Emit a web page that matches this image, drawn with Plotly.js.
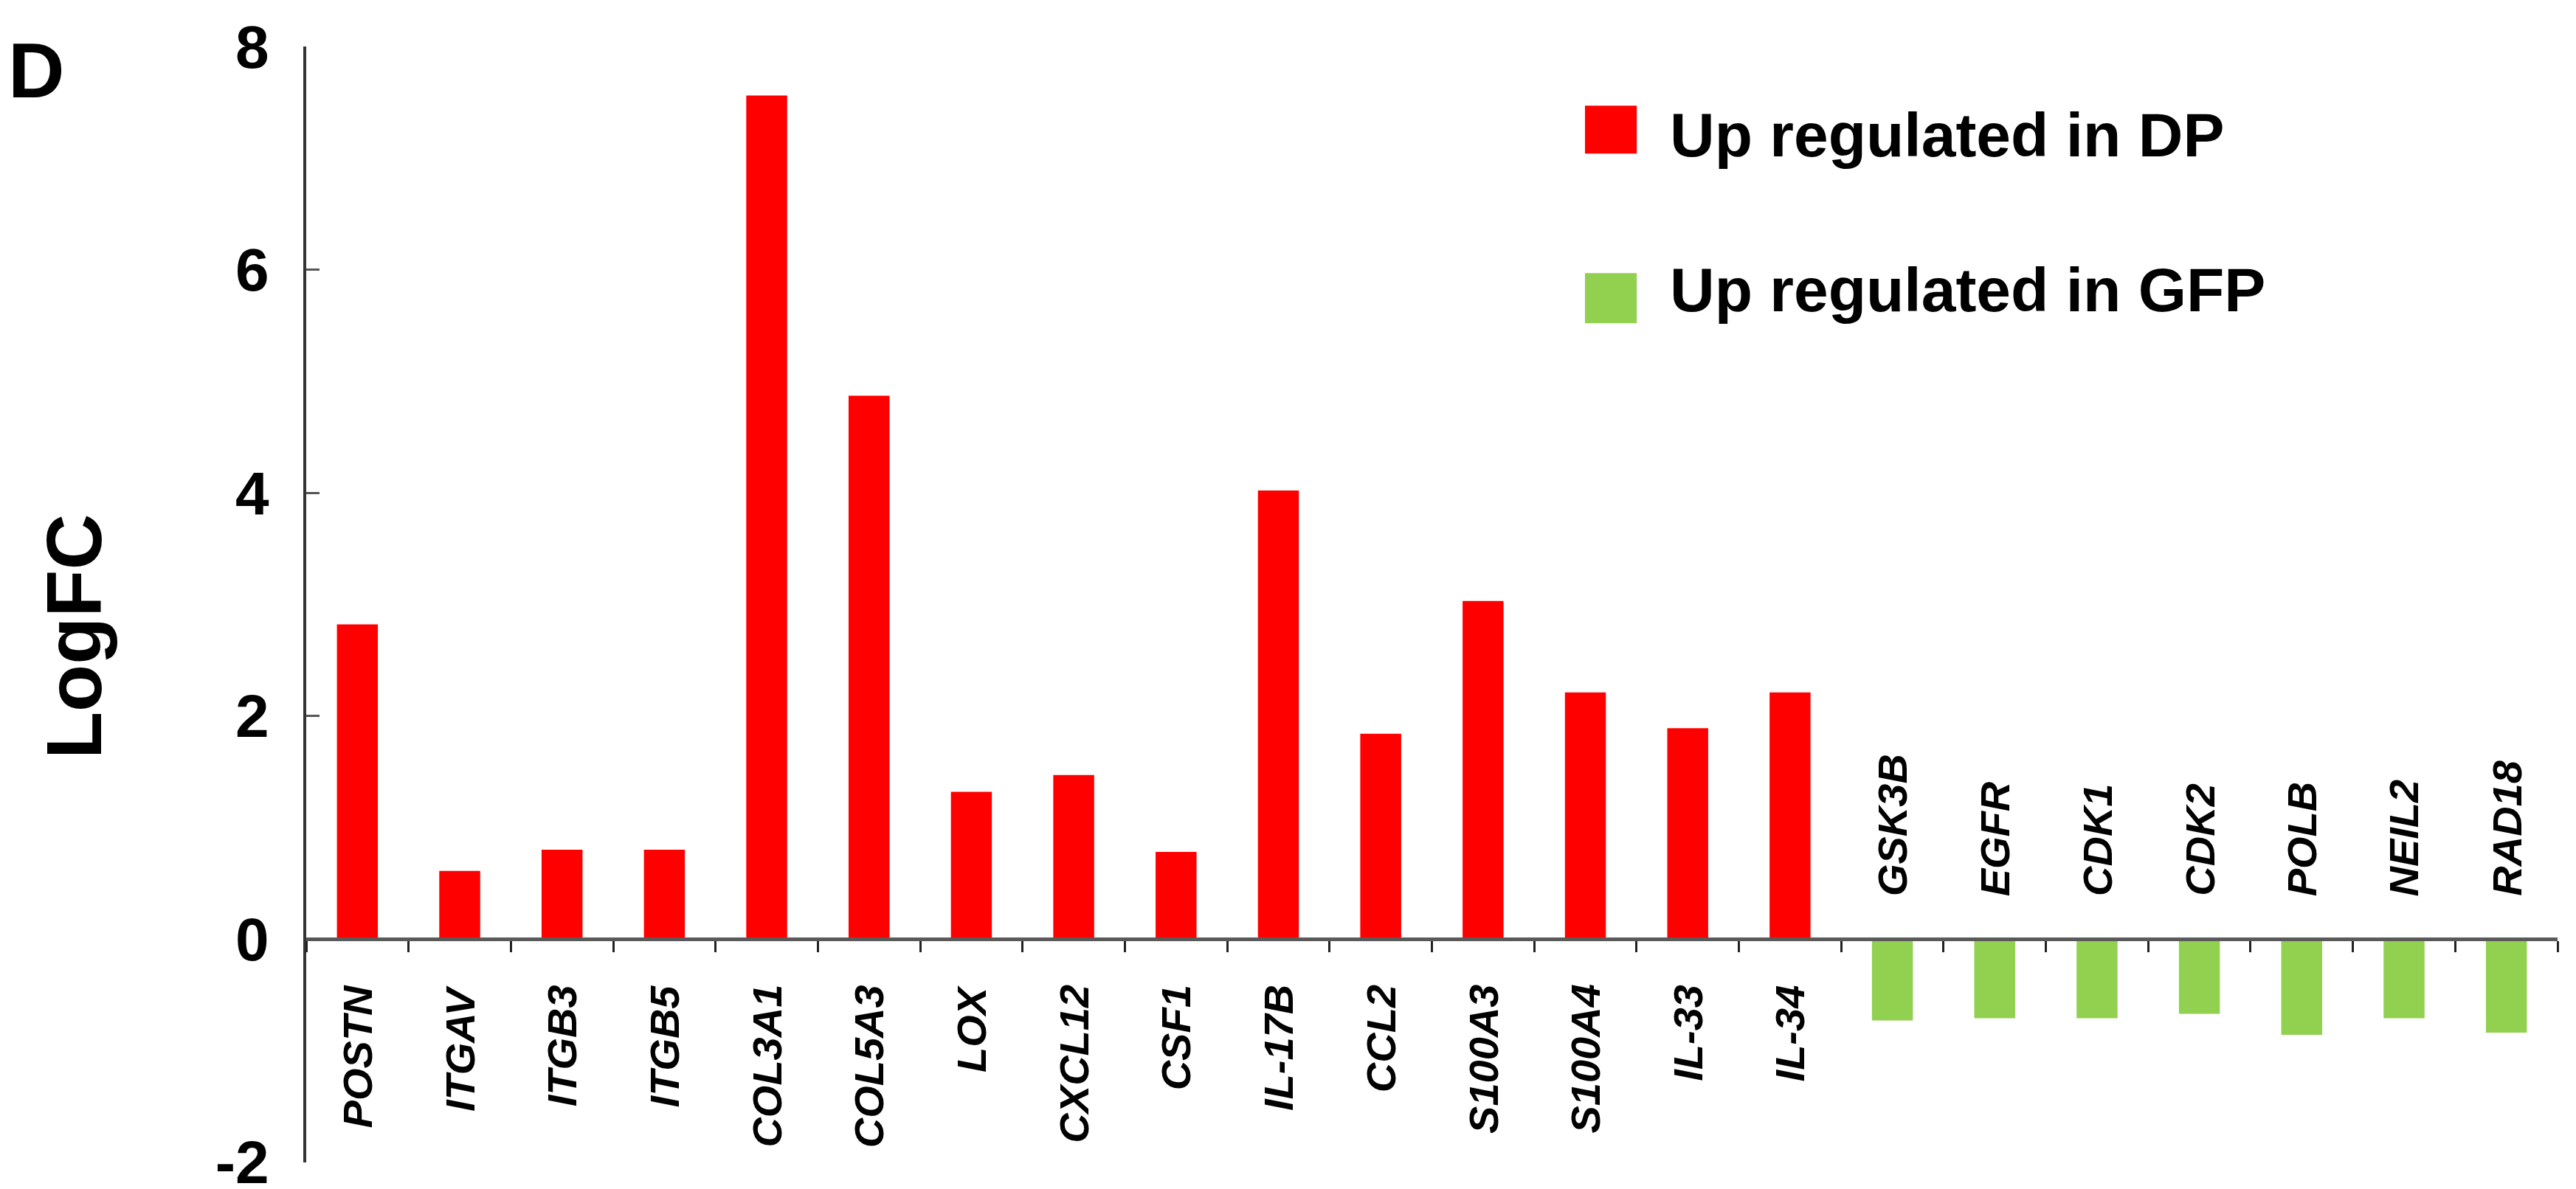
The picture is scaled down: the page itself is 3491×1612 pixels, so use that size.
<!DOCTYPE html>
<html>
<head>
<meta charset="utf-8">
<script src="https://cdn.plot.ly/plotly-3.0.1.min.js"></script>
<style>
  html, body { margin: 0; padding: 0; background: #fff; }
  #logfcChart { width: 3491px; height: 1612px; }
</style>
</head>
<body>
<div id="logfcChart"></div>
<script>
// genes up regulated in DP (red) and in GFP (green), LogFC
const dpGenes = ["POSTN", "ITGAV", "ITGB3", "ITGB5", "COL3A1", "COL5A3", "LOX", "CXCL12",
                 "CSF1", "IL-17B", "CCL2", "S100A3", "S100A4", "IL-33", "IL-34"];
const dpValues = [2.82, 0.61, 0.80, 0.80, 7.56, 4.87, 1.32, 1.47,
                  0.78, 4.02, 1.84, 3.03, 2.21, 1.89, 2.21];

const gfpGenes = ["GSK3B", "EGFR", "CDK1", "CDK2", "POLB", "NEIL2", "RAD18"];
const gfpValues = [-0.73, -0.71, -0.71, -0.67, -0.86, -0.71, -0.84];

const yTickVals = [-2, 0, 2, 4, 6, 8];
const yTickText = ["-2", "0", "2", "4", "6", "8"];

const seriesNames = ["Up regulated in DP", "Up regulated in GFP"];
const seriesColours = ["#FF0000", "#92D050"];

document.addEventListener("DOMContentLoaded", function () {
    const allGenes = dpGenes.concat(gfpGenes);
    const fontFamily = '"Liberation Sans", Arial, sans-serif';

    const traces = [
        {
            type: "bar",
            x: dpGenes,
            y: dpValues,
            name: seriesNames[0],
            marker: { color: seriesColours[0], line: { width: 0 } }
        },
        {
            type: "bar",
            x: gfpGenes,
            y: gfpValues,
            name: seriesNames[1],
            marker: { color: seriesColours[1], line: { width: 0 } }
        }
    ];

    const annotations = [];

    // gene names: red ones hang under the zero line, green ones sit above it
    dpGenes.forEach(gene => {
        annotations.push({
            x: gene, y: 0, xref: "x", yref: "y",
            text: `<b><i>${gene}</i></b>`,
            textangle: -90,
            showarrow: false,
            xanchor: "center", yanchor: "top",
            yshift: -60,
            font: { family: fontFamily, size: 56, color: "#000" }
        });
    });
    gfpGenes.forEach(gene => {
        annotations.push({
            x: gene, y: 0, xref: "x", yref: "y",
            text: `<b><i>${gene}</i></b>`,
            textangle: -90,
            showarrow: false,
            xanchor: "center", yanchor: "bottom",
            yshift: 56,
            font: { family: fontFamily, size: 56, color: "#000" }
        });
    });

    // panel letter and y title
    annotations.push({
        xref: "paper", yref: "paper", x: -0.133, y: 0.979,
        xanchor: "left", yanchor: "middle",
        text: "<b>D</b>", showarrow: false,
        font: { family: fontFamily, size: 106, color: "#000" }
    });
    annotations.push({
        xref: "paper", yref: "paper", x: -0.103, y: 0.471,
        xanchor: "center", yanchor: "middle",
        text: "<b>LogFC</b>", textangle: -90, showarrow: false,
        font: { family: fontFamily, size: 105, color: "#000" }
    });

    // hand made legend (plotly's bar swatches do not scale)
    const legendRows = [
        { y0: 0.904, y1: 0.947, ty: 0.921 },
        { y0: 0.752, y1: 0.797, ty: 0.782 }
    ];
    const shapes = [];
    legendRows.forEach((row, i) => {
        shapes.push({
            type: "rect", xref: "paper", yref: "paper",
            x0: 0.568, x1: 0.591, y0: row.y0, y1: row.y1,
            fillcolor: seriesColours[i], line: { width: 0 }
        });
        annotations.push({
            xref: "paper", yref: "paper", x: 0.605, y: row.ty,
            xanchor: "left", yanchor: "middle",
            text: `<b>${seriesNames[i]}</b>`, showarrow: false,
            font: { family: fontFamily, size: 84, color: "#000" }
        });
    });

    const layout = {
        width: 3491,
        height: 1612,
        margin: { l: 415, r: 25, t: 63, b: 36 },
        paper_bgcolor: "#fff",
        plot_bgcolor: "#fff",
        barmode: "overlay",
        bargap: 0.6,
        showlegend: false,
        font: { family: fontFamily, color: "#000" },
        xaxis: {
            type: "category",
            categoryorder: "array",
            categoryarray: allGenes,
            range: [-0.5, allGenes.length - 0.5],
            anchor: "free",
            position: 0.2,          // y = 0 on a -2..8 range
            showticklabels: false,
            showline: true,
            linecolor: "#5a5a5a",
            linewidth: 5,
            ticks: "outside",
            tickson: "boundaries",
            ticklen: 15,
            tickwidth: 3,
            tickcolor: "#222",
            showgrid: false,
            zeroline: false
        },
        yaxis: {
            range: [-2.003, 8],
            tickvals: yTickVals,
            ticktext: yTickText,
            ticks: "inside",
            ticklen: 18,
            tickwidth: 3,
            tickcolor: "#555",
            ticklabelstandoff: 30,
            ticklabeloverflow: "allow",   // keep the -2 label near the bottom edge
            tickfont: { family: fontFamily, size: 82, weight: "bold", color: "#000" },
            showline: true,
            linecolor: "#333",
            linewidth: 4,
            showgrid: false,
            zeroline: false
        },
        shapes: shapes,
        annotations: annotations
    };

    Plotly.newPlot("logfcChart", traces, layout, { displayModeBar: false, staticPlot: true });
});
</script>
</body>
</html>
